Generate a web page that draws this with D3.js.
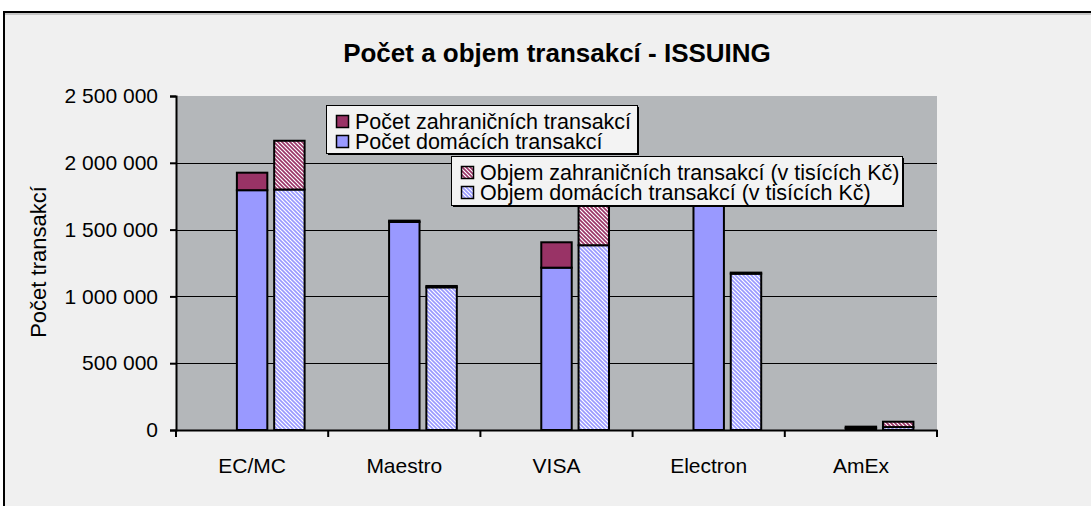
<!DOCTYPE html>
<html>
<head>
<meta charset="utf-8">
<title>Počet a objem transakcí - ISSUING</title>
<script src="https://d3js.org/d3.v7.min.js"></script>
<style>
  body { margin: 0; background: #ffffff; }
  text { font-family: "Liberation Sans", Arial, sans-serif; fill: #000; }
</style>
</head>
<body>
<div id="chart"></div>
<script>
// data
var categories = ["EC/MC", "Maestro", "VISA", "Electron", "AmEx"];
var pocetDomacich = [1795000, 1557000, 1215000, 1760000, 15000];
var pocetZahranicnich = [131000, 10000, 190000, 10000, 10000];
var objemDomacich = [1800000, 1068000, 1383000, 1170000, 22000];
var objemZahranicnich = [365000, 10000, 520000, 8000, 40000];
var yTicks = [0, 500000, 1000000, 1500000, 2000000, 2500000];
var legendPocet = ["Počet zahraničních transakcí", "Počet domácích transakcí"];
var legendObjem = ["Objem zahraničních transakcí (v tisících Kč)", "Objem domácích transakcí (v tisících Kč)"];

var W = 1091, H = 506;
var plot = {left: 176, right: 937, top: 96, bottom: 430};

var blue = "#9999ff", purple = "#993366";

var svg = d3.select("#chart").append("svg")
    .attr("width", W)
    .attr("height", H);

// hatch patterns
var defs = svg.append("defs");
function hatch(id, color) {
  var p = defs.append("pattern")
      .attr("id", id)
      .attr("patternUnits", "userSpaceOnUse")
      .attr("width", 4)
      .attr("height", 4);
  p.append("rect").attr("width", 4).attr("height", 4).attr("fill", "#ffffff");
  p.append("path")
      .attr("d", "M-1,-1L5,5M-1,3L1,5M3,-1L5,1")
      .attr("stroke", color)
      .attr("stroke-width", 1.6);
}
hatch("hatchBlue", blue);
hatch("hatchPurple", purple);

// chart area frame
svg.append("rect")
    .attr("x", 4).attr("y", 12)
    .attr("width", W + 10).attr("height", H + 10)
    .attr("fill", "#f0f0f0")
    .attr("stroke", "#000")
    .attr("stroke-width", 2);
svg.append("line")
    .attr("x1", 5).attr("x2", W).attr("y1", 14).attr("y2", 14)
    .attr("stroke", "#9a9a9a");

// title
svg.append("text")
    .attr("x", 557)
    .attr("y", 62)
    .attr("text-anchor", "middle")
    .style("font-size", "26px")
    .style("font-weight", "bold")
    .text("Počet a objem transakcí - ISSUING");

// scales
var x = d3.scaleBand()
    .domain(categories)
    .range([plot.left, plot.right])
    .padding(0);
var bw = x.bandwidth();

var y = d3.scaleLinear()
    .domain([0, 2500000])
    .range([plot.bottom, plot.top]);

var loc = d3.formatLocale({decimal: ",", thousands: " ", grouping: [3], currency: ["", ""]});
var fmt = loc.format(",d");

// plot background
svg.append("rect")
    .attr("x", plot.left).attr("y", plot.top)
    .attr("width", plot.right - plot.left)
    .attr("height", plot.bottom - plot.top)
    .attr("fill", "#b4b7ba");

// gridlines
svg.append("g")
  .selectAll("line")
  .data(yTicks.filter(function(d) { return d > 0 && d < 2500000; }))
  .enter().append("line")
    .attr("x1", plot.left).attr("x2", plot.right)
    .attr("y1", function(d) { return Math.round(y(d)) + 0.5; })
    .attr("y2", function(d) { return Math.round(y(d)) + 0.5; })
    .attr("stroke", "#000")
    .attr("stroke-width", 1.2);

// bars
function stackBars(dom, zahr, offset, fillDom, fillZahr) {
  var g = svg.append("g");
  categories.forEach(function(c, i) {
    var x0 = x(c) + offset * bw;
    var w = 0.2 * bw;
    g.append("rect")
        .attr("x", x0)
        .attr("y", y(dom[i]))
        .attr("width", w)
        .attr("height", y(0) - y(dom[i]))
        .attr("fill", fillDom)
        .attr("stroke", "#000")
        .attr("stroke-width", 2);
    g.append("rect")
        .attr("x", x0)
        .attr("y", y(dom[i] + zahr[i]))
        .attr("width", w)
        .attr("height", y(dom[i]) - y(dom[i] + zahr[i]))
        .attr("fill", fillZahr)
        .attr("stroke", "#000")
        .attr("stroke-width", 2);
  });
}
stackBars(pocetDomacich, pocetZahranicnich, 0.40, blue, purple);
stackBars(objemDomacich, objemZahranicnich, 0.645, "url(#hatchBlue)", "url(#hatchPurple)");

// y axis
var yAxis = svg.append("g")
    .attr("transform", "translate(" + plot.left + ",0)")
    .call(d3.axisLeft(y).tickValues(yTicks).tickFormat(fmt).tickSize(6).tickPadding(12));
yAxis.select(".domain").attr("stroke", "#000").attr("stroke-width", 2);
yAxis.selectAll(".tick line").attr("stroke", "#000").attr("stroke-width", 2);
yAxis.selectAll(".tick text")
    .style("font-size", "21px")
    .style("font-family", "'Liberation Sans', Arial, sans-serif")
    .attr("fill", "#000");

// x axis
var xAxis = svg.append("g")
    .attr("transform", "translate(0," + plot.bottom + ")")
    .call(d3.axisBottom(x).tickSize(0).tickPadding(28));
xAxis.select(".domain").attr("stroke", "#000").attr("stroke-width", 2);
xAxis.selectAll(".tick text")
    .style("font-size", "21px")
    .style("font-family", "'Liberation Sans', Arial, sans-serif")
    .attr("fill", "#000");
xAxis.selectAll(".bound")
  .data(d3.range(categories.length + 1))
  .enter().append("line")
    .attr("x1", function(i) { return plot.left + i * bw; })
    .attr("x2", function(i) { return plot.left + i * bw; })
    .attr("y1", 0).attr("y2", 7)
    .attr("stroke", "#000")
    .attr("stroke-width", 2);

// y axis label
svg.append("text")
    .attr("transform", "translate(46,262) rotate(-90)")
    .attr("text-anchor", "middle")
    .style("font-size", "22px")
    .text("Počet transakcí");

// legends
function legend(x0, y0, w, h, labels, fills) {
  var g = svg.append("g").attr("transform", "translate(" + x0 + "," + y0 + ")");
  g.append("rect")
      .attr("x", 2).attr("y", 2).attr("width", w).attr("height", h)
      .attr("fill", "#000");
  g.append("rect")
      .attr("x", 0.5).attr("y", 0.5).attr("width", w).attr("height", h)
      .attr("fill", "#f3f3f3")
      .attr("stroke", "#000")
      .attr("stroke-width", 1);
  labels.forEach(function(t, i) {
    var cy = 17 + i * 20;
    g.append("rect")
        .attr("x", 10.5).attr("y", cy - 6.5)
        .attr("width", 12).attr("height", 12)
        .attr("fill", fills[i])
        .attr("stroke", "#000")
        .attr("stroke-width", 1.5);
    g.append("text")
        .attr("x", 29)
        .attr("y", cy + 7)
        .style("font-size", "21.5px")
        .text(t);
  });
}
legend(326, 105, 311, 48, legendPocet, [purple, blue]);
legend(451, 156, 451, 49, legendObjem, ["url(#hatchPurple)", "url(#hatchBlue)"]);
</script>
</body>
</html>
